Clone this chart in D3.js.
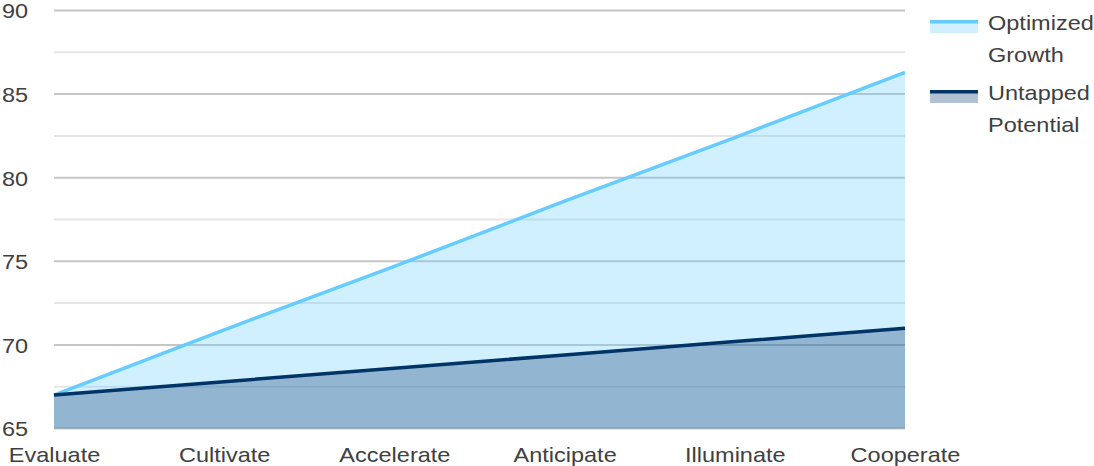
<!DOCTYPE html>
<html>
<head>
<meta charset="utf-8">
<script src="https://cdn.jsdelivr.net/npm/d3@7"></script>
<style>
  html, body { margin: 0; padding: 0; background: #fff; }
  svg { display: block; font-family: "Liberation Sans", Arial, sans-serif; }
</style>
</head>
<body>
<svg id="chart" width="1094" height="466"></svg>
<script>
// Stage names along the x axis
const categories = ["Evaluate", "Cultivate", "Accelerate", "Anticipate", "Illuminate", "Cooperate"];
// Series values
const optimizedGrowth = [67, 70.9, 74.7, 78.6, 82.4, 86.3];
const untappedPotential = [67, 67.8, 68.6, 69.4, 70.2, 71];
// Axis ticks
const majorTicks = [65, 70, 75, 80, 85, 90];
const minorTicks = [67.5, 72.5, 77.5, 82.5, 87.5];

const seriesList = [
  { name: ["Optimized", "Growth"], values: optimizedGrowth, color: "#66ccff" },
  { name: ["Untapped", "Potential"], values: untappedPotential, color: "#003366" }
];

const svg = d3.select("#chart");
const plot = { left: 54, right: 905, top: 10.5, bottom: 428.5 };
const fontSize = "21px";
const textStretch = "scale(1.12,1)";   // slightly wide lettering
const textColor = "#404040";

const x = d3.scalePoint().domain(categories).range([plot.left, plot.right]);
const y = d3.scaleLinear().domain([65, 90]).range([plot.bottom, plot.top]);

// Gridlines
const grid = svg.append("g");
grid.selectAll("line.minor").data(minorTicks).join("line")
  .attr("class", "minor")
  .attr("x1", plot.left).attr("x2", plot.right)
  .attr("y1", d => y(d)).attr("y2", d => y(d))
  .attr("stroke", "#e6e6e6").attr("stroke-width", 2);
grid.selectAll("line.major").data(majorTicks).join("line")
  .attr("class", "major")
  .attr("x1", plot.left).attr("x2", plot.right)
  .attr("y1", d => y(d)).attr("y2", d => y(d))
  .attr("stroke", "#c6c6c6").attr("stroke-width", 2);

// Areas (translucent, so grid shows through)
const area = d3.area()
  .x((d, i) => x(categories[i]))
  .y0(y(65))
  .y1(d => y(d));
const line = d3.line()
  .x((d, i) => x(categories[i]))
  .y(d => y(d));

seriesList.forEach(s => {
  svg.append("path").datum(s.values)
    .attr("d", area)
    .attr("fill", s.color).attr("fill-opacity", 0.3);
});
seriesList.forEach(s => {
  svg.append("path").datum(s.values)
    .attr("d", line)
    .attr("fill", "none")
    .attr("stroke", s.color).attr("stroke-width", 3.5)
    .attr("stroke-linejoin", "round");
});

// Y axis labels
const yAxis = d3.axisLeft(y).tickValues(majorTicks).tickSize(0).tickPadding(0);
const yg = svg.append("g").attr("transform", "translate(2,0)").call(yAxis);
yg.select(".domain").remove();
yg.selectAll("text")
  .attr("text-anchor", "start")
  .attr("x", 0)
  .attr("dy", "0.35em")
  .attr("transform", textStretch)
  .attr("fill", textColor)
  .style("font-size", fontSize)
  .style("font-family", "Liberation Sans, Arial, sans-serif");

// X axis labels
const xAxis = d3.axisBottom(x).tickSize(0).tickPadding(0);
const xg = svg.append("g").attr("transform", `translate(0,${plot.bottom})`).call(xAxis);
xg.select(".domain").remove();
xg.selectAll("text")
  .attr("y", 33.5)
  .attr("dy", 0)
  .attr("transform", textStretch)
  .attr("fill", textColor)
  .style("font-size", fontSize)
  .style("font-family", "Liberation Sans, Arial, sans-serif");

// Legend
const legend = svg.append("g");
seriesList.forEach((s, i) => {
  const g = legend.append("g").attr("transform", `translate(930,${20 + i * 70})`);
  g.append("rect").attr("x", 0).attr("y", 0).attr("width", 48).attr("height", 13)
    .attr("fill", s.color).attr("fill-opacity", 0.3);
  g.append("rect").attr("x", 0).attr("y", 0).attr("width", 48).attr("height", 3.5)
    .attr("fill", s.color);
  s.name.forEach((t, j) => {
    g.append("text")
      .attr("transform", `translate(58,${j * 32 + 9.5}) ${textStretch}`)
      .attr("fill", textColor)
      .style("font-size", fontSize)
      .text(t);
  });
});
</script>
</body>
</html>
